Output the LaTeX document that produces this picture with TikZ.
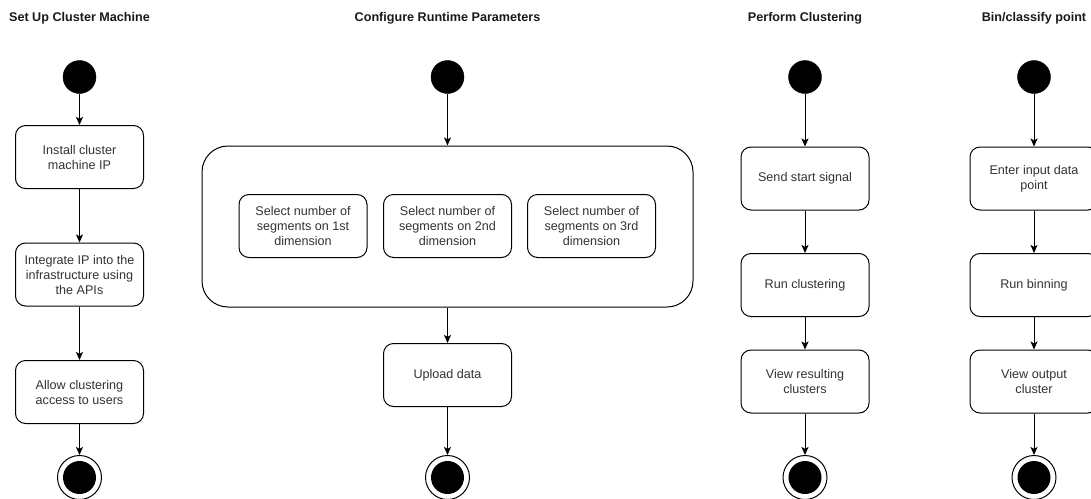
\documentclass[tikz,border=0pt]{standalone}
\usepackage{fontspec}
\setmainfont{Liberation Sans}
\usetikzlibrary{arrows.meta}
\definecolor{txt}{HTML}{333333}
\definecolor{ttl}{HTML}{1A1A1A}
\tikzset{
  act/.style={draw=black, line width=1pt, rounded corners=10pt, minimum width=128pt, minimum height=63pt, align=center, text=txt, font=\fontsize{12.6}{15}\selectfont, inner sep=2pt},
  bigact/.style={draw=black, line width=1pt, rounded corners=26pt, minimum width=491pt, minimum height=161pt},
  startnode/.style={circle, fill=black, draw=black, minimum size=33pt, inner sep=0pt},
  endnode/.style={circle, draw=black, line width=1pt, fill=white, minimum size=44pt, inner sep=0pt, path picture={\fill[black] (path picture bounding box.center) circle[radius=16.5pt];}},
  ttlnode/.style={text=ttl, font=\bfseries\fontsize{12.6}{14}\selectfont, inner sep=0pt},
  flow/.style={draw=black, line width=1pt, -{Stealth[length=8pt,width=7pt,inset=1.8pt]}}
}
\begin{document}
\begin{tikzpicture}[x=1pt,y=-1pt]
\useasboundingbox (0,0) rectangle (1091,498);
\fill[white] (0,0) rectangle (1091,498);

% titles
\node[ttlnode] (t1) at (79.5,18) {Set Up Cluster Machine};
\node[ttlnode] (t2) at (447.5,18) {Configure Runtime Parameters};
\node[ttlnode] (t3) at (805,18) {Perform Clustering};
\node[ttlnode] (t4) at (1034,18) {Bin/classify point};

% column 1
\node[startnode] (s1) at (79.5,77) {};
\node[act] (a1) at (79.5,157) {Install cluster\\machine IP};
\node[act] (a2) at (79.5,274.5) {Integrate IP into the\\infrastructure using\\the APIs};
\node[act] (a3) at (79.5,392) {Allow clustering\\access to users};
\node[endnode] (e1) at (79.5,477.5) {};
\draw[flow] (s1) -- (a1);
\draw[flow] (a1) -- (a2);
\draw[flow] (a2) -- (a3);
\draw[flow] (a3) -- (e1);

% column 2
\node[startnode] (s2) at (447.5,77) {};
\node[bigact] (big) at (447.5,226.5) {};
\node[act] (b1) at (303,226) {Select number of\\segments on 1st\\dimension};
\node[act] (b2) at (447.5,226) {Select number of\\segments on 2nd\\dimension};
\node[act] (b3) at (591.5,226) {Select number of\\segments on 3rd\\dimension};
\node[act] (up) at (447.5,375) {Upload data};
\node[endnode] (e2) at (447.5,477.5) {};
\draw[flow] (s2) -- (big);
\draw[flow] (big) -- (up);
\draw[flow] (up) -- (e2);

% column 3
\node[startnode] (s3) at (805,77) {};
\node[act] (c1) at (805,178.5) {Send start signal};
\node[act] (c2) at (805,285) {Run clustering};
\node[act] (c3) at (805,381.5) {View resulting\\clusters};
\node[endnode] (e3) at (805,477.5) {};
\draw[flow] (s3) -- (c1);
\draw[flow] (c1) -- (c2);
\draw[flow] (c2) -- (c3);
\draw[flow] (c3) -- (e3);

% column 4
\node[startnode] (s4) at (1034,77) {};
\node[act] (d1) at (1034,178.5) {Enter input data\\point};
\node[act] (d2) at (1034,285) {Run binning};
\node[act] (d3) at (1034,381.5) {View output\\cluster};
\node[endnode] (e4) at (1034,477.5) {};
\draw[flow] (s4) -- (d1);
\draw[flow] (d1) -- (d2);
\draw[flow] (d2) -- (d3);
\draw[flow] (d3) -- (e4);
\end{tikzpicture}
\end{document}
